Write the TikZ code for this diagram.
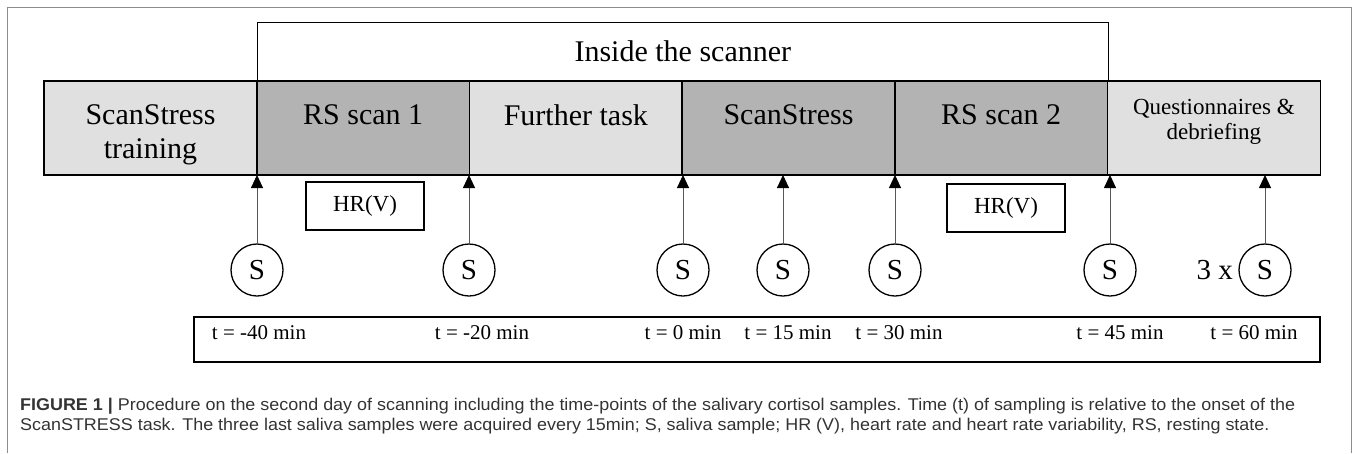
\documentclass[tikz,border=0pt]{standalone}
\usepackage{fontspec}
\setmainfont{Liberation Serif}
\newfontfamily\capfont[FakeStretch=1.055]{Liberation Sans}
\usetikzlibrary{positioning, arrows.meta}

\definecolor{darkstage}{HTML}{B3B3B3}
\definecolor{lightstage}{HTML}{E0E0E0}
\definecolor{framegray}{HTML}{8C8C8C}

\tikzset{
  stage/.style={draw, line width=1.4pt, outer sep=0pt, inner sep=0pt, minimum width=212.67pt, minimum height=94pt},
  stagetext/.style={font=\fontsize{30}{34}\selectfont, align=center, inner sep=0pt},
  saliva/.style={circle, draw, line width=1.3pt, minimum size=52pt, inner sep=0pt, font=\fontsize{29}{29}\selectfont},
  hrbox/.style={draw, line width=1.2pt, minimum width=118pt, minimum height=48pt, font=\fontsize{23}{23}\selectfont},
  timetext/.style={font=\fontsize{21}{21}\selectfont, inner sep=0pt},
  rise/.style={draw=black!65, line width=0.9pt, -{Triangle[length=13pt, width=12pt, color=black]}},
}

\begin{document}
\begin{tikzpicture}[x=1pt, y=-1pt]
  \useasboundingbox (0,0) rectangle (1357,453);
  \draw[framegray, line width=1pt] (7,453) -- (7,7) -- (1351,7) -- (1351,453);

  % the six stages
  \node[stage, fill=lightstage] (train) at (150.5,128) {};
  \node[stage, fill=darkstage, right=0pt of train] (rs1) {};
  \node[stage, fill=lightstage, right=0pt of rs1] (task) {};
  \node[stage, fill=darkstage, right=0pt of task] (stress) {};
  \node[stage, fill=darkstage, right=0pt of stress] (rs2) {};
  \node[stage, fill=lightstage, right=0pt of rs2] (quest) {};
  \node[draw, line width=1pt, inner sep=0pt, minimum width=851pt, minimum height=58pt, anchor=south west,
        font=\fontsize{30}{30}\selectfont] (scanner) at (rs1.north west) {Inside the scanner};
  \draw[line width=1.4pt] (rs1.north west) -- (rs2.north east);

  \node[stagetext, below=23pt of train.north, anchor=north] (trainlbl) {ScanStress\\training};
  \node[stagetext, below=23pt of rs1.north, anchor=north] (rs1lbl) {RS scan 1};
  \node[stagetext, below=23pt of task.north, anchor=north] (tasklbl) {Further task};
  \node[stagetext, below=23pt of stress.north, anchor=north] (stresslbl) {ScanStress};
  \node[stagetext, below=23pt of rs2.north, anchor=north] (rs2lbl) {RS scan 2};
  \node[stagetext, font=\fontsize{23}{25}\selectfont, below=18pt of quest.north, anchor=north] (questlbl) {Questionnaires \&\\debriefing};

  % saliva samples
  \foreach \n/\x in {1/257, 2/469, 3/683, 4/783, 5/895, 6/1110, 7/1265}{
    \node[saliva] (s\n) at (\x,270) {S};
    \draw[rise] (s\n.north) -- (s\n.north |- train.south);
  }
  \node[font=\fontsize{29}{29}\selectfont, left=2pt of s7] (times) {3 x};

  \node[hrbox] (hr1) at (365,206) {HR(V)};
  \node[hrbox] (hr2) at (1006,208) {HR(V)};

  % time line
  \node[draw, line width=1.2pt, minimum width=1126pt, minimum height=45pt] (timeline) at (757,339.5) {};
  \foreach \x/\t in {259/-40, 482/-20, 683/0, 788/15, 899/30, 1120/45, 1254/60}{
    \node[timetext] (t\t) at (\x,333) {t = \t\ min};
  }

  \node[anchor=north west, align=left, inner sep=0pt, text=black!80,
        font=\capfont\fontsize{17}{19.5}\selectfont] (caption) at (20,398)
    {\textbf{FIGURE 1 |} Procedure on the second day of scanning including the time-points of the salivary cortisol samples. Time (t) of sampling is relative to the onset of the\\
     ScanSTRESS task. The three last saliva samples were acquired every 15min; S, saliva sample; HR (V), heart rate and heart rate variability, RS, resting state.};
\end{tikzpicture}
\end{document}
